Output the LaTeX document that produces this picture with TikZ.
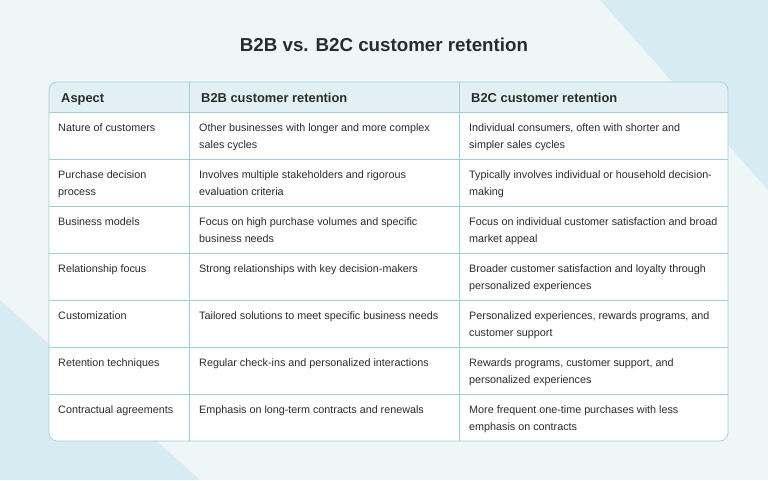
\documentclass[tikz,border=0pt]{standalone}
\usepackage{fontspec}
\setmainfont{Liberation Sans}
\usetikzlibrary{positioning}
\definecolor{pagebg}{RGB}{238,246,248}
\definecolor{cornerbg}{RGB}{214,236,242}
\definecolor{headbg}{RGB}{226,240,243}
\definecolor{gridline}{RGB}{160,206,214}
\definecolor{inktext}{RGB}{40,44,48}
\begin{document}
\begin{tikzpicture}[x=0.03cm, y=-0.03cm,
    cell/.style={anchor=north west, align=left, inner sep=0pt, font=\fontsize{9.2}{14.5}\selectfont, text=inktext},
    head/.style={anchor=base west, inner sep=0pt, font=\fontsize{11}{12}\selectfont\bfseries, text=inktext},
    grid/.style={draw=gridline, line width=0.6pt}
]
% background
\fill[pagebg] (0,0) rectangle (768,480);
\fill[cornerbg] (600,0) -- (768,0) -- (768,190) -- cycle;
\fill[cornerbg] (0,300) -- (0,480) -- (200,480) -- cycle;
\useasboundingbox (0,0) rectangle (768,480);

\node[font=\fontsize{16}{18}\selectfont\bfseries, text=inktext] (title) at (384,45) {B2B vs. B2C customer retention};

% table frame
\fill[white, rounded corners=7pt] (49,82) rectangle (728,441);
\fill[headbg, rounded corners=7pt] (49,82) rectangle (728,112);
\fill[headbg] (49,100) rectangle (728,112);
\draw[grid, rounded corners=7pt] (49,82) rectangle (728,441);
\draw[grid] (49,112) -- (728,112);
\foreach \y in {159,206,253,300,347,394}
  \draw[grid] (49,\y) -- (728,\y);
\draw[grid] (189,82) -- (189,441);
\draw[grid] (459,82) -- (459,441);

% header
\node[head] (aspect) at (61,102) {Aspect};
\node[head] (btob) at (201,102) {B2B customer retention};
\node[head] (btoc) at (471,102) {B2C customer retention};

% rows
\foreach \i/\a/\b/\c in {
  0/{Nature of customers}/{Other businesses with longer and more complex\\sales cycles}/{Individual consumers, often with shorter and\\simpler sales cycles},
  1/{Purchase decision\\process}/{Involves multiple stakeholders and rigorous\\evaluation criteria}/{Typically involves individual or household decision-\\making},
  2/{Business models}/{Focus on high purchase volumes and specific\\business needs}/{Focus on individual customer satisfaction and broad\\market appeal},
  3/{Relationship focus}/{Strong relationships with key decision-makers}/{Broader customer satisfaction and loyalty through\\personalized experiences},
  4/{Customization}/{Tailored solutions to meet specific business needs}/{Personalized experiences, rewards programs, and\\customer support},
  5/{Retention techniques}/{Regular check-ins and personalized interactions}/{Rewards programs, customer support, and\\personalized experiences},
  6/{Contractual agreements}/{Emphasis on long-term contracts and renewals}/{More frequent one-time purchases with less\\emphasis on contracts}}
{
  \node[cell] (aspect\i) at (58,123+47*\i) {\a};
  \node[cell] (btob\i) at (199,123+47*\i) {\b};
  \node[cell] (btoc\i) at (469,123+47*\i) {\c};
}
\end{tikzpicture}
\end{document}
